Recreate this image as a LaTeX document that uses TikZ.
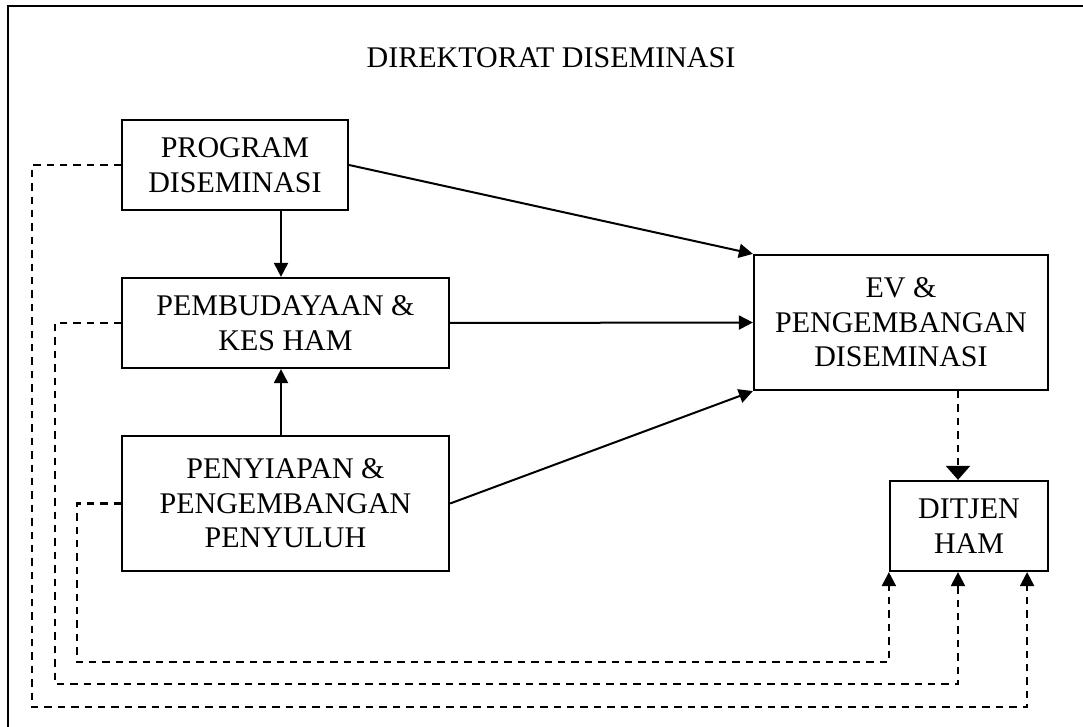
\documentclass[tikz,border=0pt]{standalone}
\usepackage{fontspec}
\setmainfont{Liberation Serif}
\usetikzlibrary{arrows.meta,positioning}

\begin{document}
\begin{tikzpicture}[
    x=0.5pt, y=-0.5pt,
    font=\fontsize{15}{17.25}\selectfont,
    box/.style={rectangle, draw, line width=1.1pt, align=center, inner sep=0pt},
    arrow/.style={-{Triangle[length=7pt,width=7pt]}, line width=1pt},
    fback/.style={dash pattern=on 3.7pt off 3pt, line width=1.1pt, -{Triangle[length=7pt,width=7pt]}},
    fbackbig/.style={fback, -{Triangle[length=7pt,width=12pt]}}
]
\useasboundingbox (0,0) rectangle (1083,727);

% Frame and title
\draw[line width=1.4pt] (8,727) -- (8,6) -- (1083,6);
\node[anchor=base] (title) at (551,68) {DIREKTORAT DISEMINASI};

% Left column
\node[box, minimum width=113pt, minimum height=45pt] (program) at (235,165) {
    PROGRAM\\
    DISEMINASI
};
\node[box, minimum width=163.5pt, minimum height=45pt] (pembudayaan) at (285.5,323) {
    PEMBUDAYAAN \&\\
    KES HAM
};
\node[box, minimum width=163.5pt, minimum height=67.5pt] (penyiapan) at (285.5,503.5) {
    PENYIAPAN \&\\
    PENGEMBANGAN\\
    PENYULUH
};

% Right column
\node[box, minimum width=147pt, minimum height=67.5pt] (ev) at (901,322.5) {
    EV \&\\
    PENGEMBANGAN\\
    DISEMINASI
};
\node[box, minimum width=79pt, minimum height=45pt] (ditjen) at (969,526) {
    DITJEN\\
    HAM
};

% Helper points
\coordinate (vline) at ([xshift=23pt]program.south);
\coordinate (inA) at (ditjen.south west);
\coordinate (inB) at ([xshift=-5.5pt]ditjen.south);
\coordinate (inC) at ([xshift=-11pt]ditjen.south east);
\coordinate (lowA) at (77,662);
\coordinate (lowB) at (55,684);
\coordinate (lowC) at (32,707);

% Solid arrows
\draw[arrow] (program.south -| vline) -- (pembudayaan.north -| vline);
\draw[arrow] (penyiapan.north -| vline) -- (pembudayaan.south -| vline);
\draw[arrow] (program.east) -- (ev.north west);
\draw[arrow] (pembudayaan.east) -- (ev.west);
\draw[arrow] (penyiapan.east) -- (ev.south west);

% Dashed arrows
\draw[fbackbig] (ev.south -| inB) -- (ditjen.north -| inB);
\draw[fback] (penyiapan.west) -| (lowA) -| (inA);
\draw[fback] (pembudayaan.west) -| (lowB) -| (inB);
\draw[fback] (program.west) -| (lowC) -| (inC);

\end{tikzpicture}
\end{document}
